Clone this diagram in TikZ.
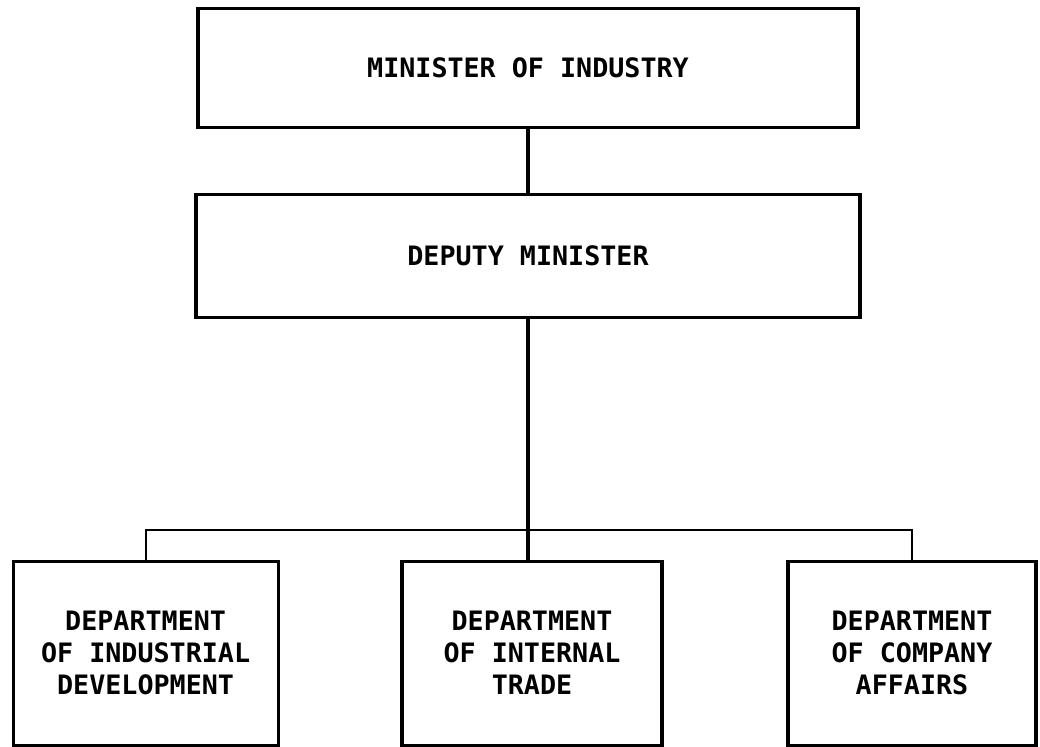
\documentclass[tikz,border=0pt]{standalone}
\usepackage{fontspec}
\newfontfamily\chartfont{DejaVu Sans Mono}
\usepackage{tikz}
\usetikzlibrary{positioning}

\begin{document}
\begin{tikzpicture}[
  font=\chartfont\bfseries\fontsize{19}{22.8}\selectfont,
  box/.style={draw, line width=2.2pt, align=center, inner sep=0pt},
  link/.style={line width=2.4pt},
  bus/.style={line width=1.3pt},
]
  \useasboundingbox (0,0) rectangle (26,-18.675);

  \node[box, minimum width=16.5cm, minimum height=2.975cm]
    (minister) at (13.2,-1.69) {MINISTER OF INDUSTRY};
  \node[box, minimum width=16.6cm, minimum height=3.075cm,
    below=1.6cm of minister] (deputy) {DEPUTY MINISTER};

  \node[box, minimum width=6.625cm, minimum height=4.6cm]
    (industrial) at (3.64,-16.33) {DEPARTMENT\\OF INDUSTRIAL\\DEVELOPMENT};
  \node[box, minimum width=6.5cm, minimum height=4.6cm]
    (internal) at (13.3,-16.33) {DEPARTMENT\\OF INTERNAL\\TRADE};
  \node[box, minimum width=6.2cm, minimum height=4.6cm]
    (company) at (22.8,-16.33) {DEPARTMENT\\OF COMPANY\\AFFAIRS};

  \coordinate (split) at (13.3,-13.25);

  \draw[link] (minister) -- (deputy);
  \draw[link] (deputy.south) -- (deputy.south |- internal.north);
  \draw[bus] (industrial.north) -- (industrial.north |- split)
    -- (company.north |- split) -- (company.north);
\end{tikzpicture}
\end{document}
